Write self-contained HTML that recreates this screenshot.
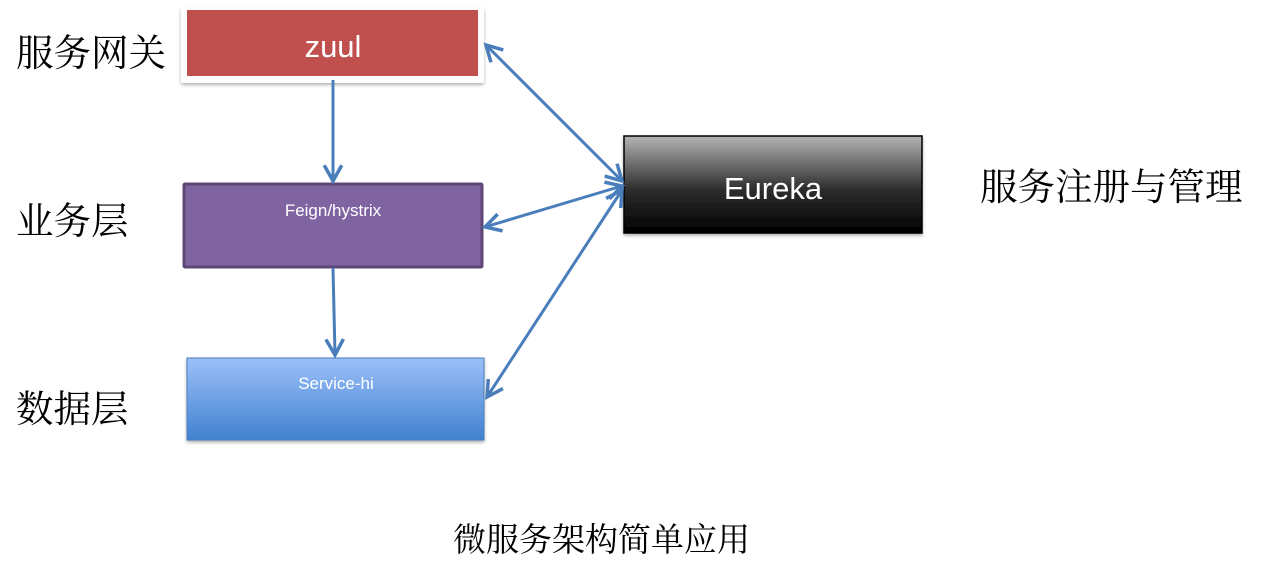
<!DOCTYPE html>
<html><head><meta charset="utf-8"><style>
html,body{margin:0;padding:0;background:#fff;}
svg{display:block;}
.cj{font-family:"Noto Serif CJK SC","Liberation Serif",serif;fill:#000;}
.lt{font-family:"Liberation Sans","DejaVu Sans",sans-serif;fill:#fff;}
</style></head><body>
<svg width="1261" height="566" viewBox="0 0 1261 566" xmlns="http://www.w3.org/2000/svg">
<defs>
<linearGradient id="gk" x1="0" y1="0" x2="0" y2="1"><stop offset="0" stop-color="#b4b4b4"/><stop offset="0.55" stop-color="#2e2e2e"/><stop offset="1" stop-color="#000"/></linearGradient>
<linearGradient id="gb" x1="0" y1="0" x2="0" y2="1"><stop offset="0" stop-color="#9bbff8"/><stop offset="1" stop-color="#4181d0"/></linearGradient>
<filter id="sh" x="-5%" y="-10%" width="110%" height="130%"><feDropShadow dx="0" dy="2" stdDeviation="1.5" flood-color="#000" flood-opacity="0.3"/></filter>
<marker id="ah" viewBox="0 0 12 12" refX="10" refY="6" markerWidth="7" markerHeight="7" orient="auto-start-reverse" markerUnits="strokeWidth"><path d="M1,1 L10,6 L1,11" fill="none" stroke="#4a7ebb" stroke-width="2"/></marker>
</defs>
<text class="cj" x="16" y="66" font-size="37.5">服务网关</text>
<text class="cj" x="16" y="234" font-size="37.5">业务层</text>
<text class="cj" x="16" y="422" font-size="37.5">数据层</text>
<text class="cj" x="980" y="200" font-size="37.5">服务注册与管理</text>
<text class="cj" x="453" y="551" font-size="33">微服务架构简单应用</text>

<rect x="181" y="7" width="303" height="76" fill="#fff" filter="url(#sh)" rx="2"/>
<rect x="187" y="10" width="291" height="66" fill="#c0504d"/>
<text class="lt" x="333" y="57" font-size="31" text-anchor="middle">zuul</text>

<rect x="184" y="184" width="298" height="83" fill="#8064a2" stroke="#5c4776" stroke-width="3" rx="1"/>
<text class="lt" x="333" y="216" font-size="17" text-anchor="middle">Feign/hystrix</text>

<rect x="187" y="358" width="297" height="82" fill="url(#gb)" stroke="#4a7ebb" stroke-width="1" filter="url(#sh)"/>
<text class="lt" x="336" y="389" font-size="17" text-anchor="middle">Service-hi</text>

<rect x="624" y="136" width="298" height="97" fill="url(#gk)" stroke="#000" stroke-width="1.5" filter="url(#sh)"/>
<text class="lt" x="773" y="199" font-size="31" text-anchor="middle">Eureka</text>

<g stroke="#4a7ebb" stroke-width="3" fill="none">
<line x1="333" y1="80" x2="333" y2="181" marker-end="url(#ah)"/>
<line x1="333" y1="268" x2="335" y2="355" marker-end="url(#ah)"/>
<line x1="486" y1="45" x2="622" y2="181" marker-start="url(#ah)" marker-end="url(#ah)"/>
<line x1="485" y1="227" x2="622" y2="186" marker-start="url(#ah)" marker-end="url(#ah)"/>
<line x1="487" y1="397" x2="622" y2="190" marker-start="url(#ah)" marker-end="url(#ah)"/>
</g>
</svg>
</body></html>
